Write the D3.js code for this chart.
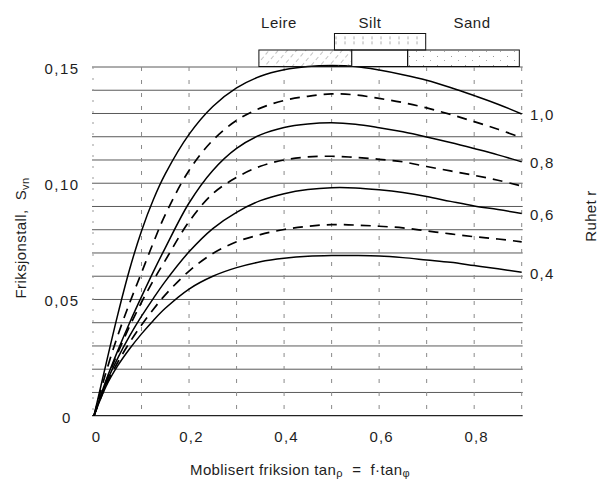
<!DOCTYPE html>
<html><head><meta charset="utf-8">
<script src="https://cdn.jsdelivr.net/npm/d3@7"></script>
<style>
body{margin:0;background:#fff}
svg{display:block}
text{font-family:"Liberation Sans",Arial,Helvetica,sans-serif;fill:#1e1e1e}
</style>
</head><body>
<svg id="chart" width="598" height="485"></svg>
<script>
// ---- data ----
const xValues = [0,0.025,0.05,0.075,0.1,0.125,0.15,0.2,0.25,0.3,0.35,0.4,0.45,0.5,0.55,0.6,0.65,0.7,0.75,0.8,0.85,0.9];
const r10 = [0,0.022,0.0435,0.063,0.0795,0.093,0.104,0.121,0.133,0.141,0.146,0.1488,0.1502,0.1506,0.1502,0.1487,0.1467,0.1443,0.1412,0.1377,0.134,0.1298];
const r09 = [0,0.0185,0.0345,0.0485,0.0615,0.0745,0.0865,0.1055,0.1185,0.127,0.1323,0.1356,0.1374,0.1384,0.138,0.1365,0.1347,0.1324,0.1296,0.1265,0.1232,0.1196];
const r08 = [0,0.015,0.028,0.040,0.0512,0.062,0.0722,0.0915,0.1055,0.115,0.1208,0.124,0.1255,0.126,0.1254,0.1239,0.1221,0.1199,0.1175,0.1149,0.1122,0.1092];
const r07 = [0,0.0145,0.027,0.0385,0.0488,0.0582,0.0668,0.0835,0.0955,0.1025,0.1073,0.110,0.1113,0.1116,0.1111,0.1103,0.1092,0.1072,0.1053,0.1034,0.1013,0.0988];
const r06 = [0,0.0138,0.0248,0.0343,0.0428,0.0505,0.0578,0.0705,0.0805,0.0875,0.0925,0.0955,0.0973,0.0981,0.098,0.0972,0.096,0.0943,0.0922,0.0902,0.0887,0.087];
const r05 = [0,0.013,0.023,0.0315,0.039,0.0458,0.052,0.0622,0.0698,0.0748,0.0779,0.0801,0.0815,0.0822,0.082,0.0815,0.0808,0.0795,0.0782,0.077,0.076,0.0748];
const r04 = [0,0.0125,0.0215,0.0288,0.0352,0.041,0.0462,0.0545,0.060,0.0637,0.0662,0.0677,0.0686,0.0689,0.0689,0.0687,0.068,0.067,0.066,0.0646,0.0632,0.0617];
const seriesNames = ["1,0","0,9","0,8","0,7","0,6","0,5","0,4"];
const seriesValues = [r10,r09,r08,r07,r06,r05,r04];
const ruhetLabels = ["1,0","0,8","0,6","0,4"];       // labelled (solid) curves
const xTicks = [0,0.2,0.4,0.6,0.8];
const xTickLabels = ["0","0,2","0,4","0,6","0,8"];
const yTicks = [0,0.05,0.10,0.15];
const yTickLabels = ["0","0,05","0,10","0,15"];
const xGrid = [0.1,0.2,0.3,0.4,0.5,0.6,0.7,0.8,0.9];
const yGrid = [0,0.01,0.02,0.03,0.04,0.05,0.06,0.07,0.08,0.09,0.10,0.11,0.12,0.13,0.14,0.15];
const soilNames = ["Leire","Silt","Sand"];
const soilRanges = [[0.347,0.5425],[0.506,0.698],[0.66,0.895]];
const gapRange = [0.5425,0.66];

// ---- drawing ----
const svg = d3.select("#chart");
const x = d3.scaleLinear().domain([0,0.9]).range([94,521.7]);
const y = d3.scaleLinear().domain([0,0.15]).range([415.7,67]);
const FS = 15;
const NB = "\u00A0";

const defs = svg.append("defs");
const hatch = defs.append("pattern").attr("id","hatch").attr("patternUnits","userSpaceOnUse")
  .attr("width",7).attr("height",7).attr("patternTransform","rotate(40)");
hatch.append("line").attr("x1",0).attr("y1",0).attr("x2",0).attr("y2",4).attr("stroke","#777").attr("stroke-width",0.9);
const dots = defs.append("pattern").attr("id","dots").attr("patternUnits","userSpaceOnUse").attr("width",14).attr("height",9);
dots.append("rect").attr("x",3).attr("y",2).attr("width",1).attr("height",1).attr("fill","#999");
dots.append("rect").attr("x",10).attr("y",6).attr("width",1).attr("height",1).attr("fill","#aaa");
const vt = defs.append("pattern").attr("id","vticks").attr("patternUnits","userSpaceOnUse").attr("width",9).attr("height",16.7).attr("x",2);
vt.append("line").attr("x1",1).attr("x2",1).attr("y1",3).attr("y2",13).attr("stroke","#999").attr("stroke-width",0.8).attr("stroke-dasharray","3,2");

// grid
svg.append("g").selectAll("line").data(yGrid).join("line")
  .attr("x1",x(0)-2).attr("x2",x(0.9)+1)
  .attr("y1",d=>y(d)).attr("y2",d=>y(d))
  .attr("stroke",(d,i)=> (i===0)?"#222":"#5a5a5a")
  .attr("stroke-width",(d,i)=> (i===0)?1.3:1);
svg.append("g").selectAll("line").data(xGrid).join("line")
  .attr("x1",d=>x(d)).attr("x2",d=>x(d))
  .attr("y1",y(0.15)).attr("y2",y(0))
  .attr("stroke","#8a8a8a").attr("stroke-width",1).attr("stroke-dasharray","4,9");
svg.append("line").attr("x1",x(0)-1).attr("x2",x(0)-1).attr("y1",y(0.15)).attr("y2",y(0))
  .attr("stroke","#999").attr("stroke-dasharray","2,9");

// curves
const line = d3.line().x((d,i)=>x(xValues[i])).y(d=>y(d)).curve(d3.curveCatmullRom.alpha(0.5));
svg.append("g").selectAll("path").data(seriesValues).join("path")
  .attr("d",d=>line(d))
  .attr("fill","none").attr("stroke","#000")
  .attr("stroke-width",(d,i)=> i%2 ? 1.7 : 1.5)
  .attr("stroke-dasharray",(d,i)=> i%2 ? "10,7" : null);

// soil boxes
const rowBottom = [50,66.5], rowTop = [33.5,50];
const boxes = [
  {r:soilRanges[0], row:rowBottom, fill:"url(#hatch)"},
  {r:gapRange, row:rowBottom, fill:"#fff"},
  {r:soilRanges[2], row:rowBottom, fill:"url(#dots)"},
  {r:soilRanges[1], row:rowTop, fill:"url(#vticks)"}
];
svg.append("g").selectAll("rect").data(boxes).join("rect")
  .attr("x",d=>x(d.r[0])).attr("width",d=>x(d.r[1])-x(d.r[0]))
  .attr("y",d=>d.row[0]).attr("height",d=>d.row[1]-d.row[0])
  .attr("fill",d=>d.fill).attr("stroke","#111").attr("stroke-width",1);
const soilLabelX = [279, 370, 472];
svg.append("g").selectAll("text").data(soilNames).join("text")
  .attr("x",(d,i)=>soilLabelX[i]).attr("y",27.5)
  .attr("text-anchor","middle").attr("font-size",FS).attr("letter-spacing",0.5).text(d=>d);

// axes (tick labels)
const xAxis = d3.axisBottom(x).tickValues(xTicks).tickSize(0).tickPadding(16)
  .tickFormat((d,i)=>xTickLabels[i]);
const gx = svg.append("g").attr("transform",`translate(2,${y(0)})`).call(xAxis);
gx.select(".domain").remove();
gx.selectAll("text").attr("font-size",FS).attr("letter-spacing",1.2)
  .attr("font-family","Liberation Sans, Arial, sans-serif").attr("fill","#1e1e1e");

const yAxis = d3.axisLeft(y).tickValues(yTicks).tickSize(0).tickPadding(0)
  .tickFormat((d,i)=>yTickLabels[i]);
const gy = svg.append("g").attr("transform","translate(62,1.5)").call(yAxis);
gy.select(".domain").remove();
gy.selectAll("text").attr("text-anchor","middle").attr("x",(d,i)=> i===0?5:0)
  .attr("font-size",FS).attr("letter-spacing",1.5)
  .attr("font-family","Liberation Sans, Arial, sans-serif").attr("fill","#1e1e1e");

// right-hand r labels at ends of solid curves
svg.append("g").selectAll("text").data(ruhetLabels).join("text")
  .attr("x",530).attr("y",(d,i)=>y(seriesValues[i*2][xValues.length-1])+6.5)
  .attr("font-size",FS).attr("letter-spacing",1.2).text(d=>d);

// titles
const xt = svg.append("text").attr("x",300).attr("y",475).attr("text-anchor","middle")
  .attr("font-size",FS).attr("letter-spacing",0.4);
xt.append("tspan").text("Moblisert friksion tan");
xt.append("tspan").attr("font-size",11).attr("dy",2).text("ρ");
xt.append("tspan").attr("dy",-2).text(NB + NB + "=" + NB + NB + "f·tan");
xt.append("tspan").attr("font-size",11).attr("dy",2).text("φ");

const yt = svg.append("text").attr("transform","translate(26,238) rotate(-90)").attr("text-anchor","middle")
  .attr("font-size",FS).attr("letter-spacing",0.4);
yt.append("tspan").text("Friksjonstall," + NB + NB + "S");
yt.append("tspan").attr("font-size",11).attr("dy",3).text("vn");

svg.append("text").attr("transform","translate(596,216) rotate(-90)").attr("text-anchor","middle")
  .attr("font-size",FS).attr("letter-spacing",0.3).text("Ruhet r");
</script>
</body></html>
